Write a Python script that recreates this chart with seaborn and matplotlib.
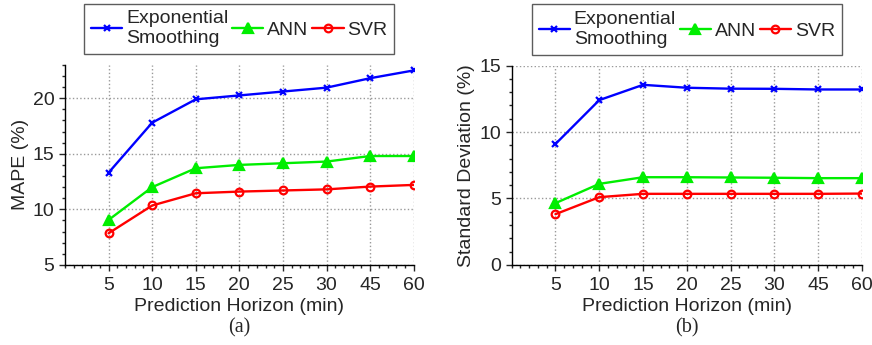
import numpy as np
import pandas as pd
import seaborn as sns
import matplotlib.pyplot as plt
from matplotlib.ticker import AutoMinorLocator, MultipleLocator, FixedLocator

# data
horizons = ["5", "10", "15", "20", "25", "30", "45", "60"]
methods = ["Exponential\nSmoothing", "ANN", "SVR"]

mape_es = [13.3, 17.8, 19.9, 20.25, 20.6, 20.95, 21.8, 22.5]
mape_ann = [9.05, 12.0, 13.7, 14.0, 14.15, 14.3, 14.8, 14.8]
mape_svr = [7.85, 10.35, 11.45, 11.6, 11.7, 11.8, 12.05, 12.2]

std_es = [9.1, 12.4, 13.55, 13.33, 13.26, 13.25, 13.2, 13.2]
std_ann = [4.65, 6.1, 6.6, 6.6, 6.58, 6.56, 6.53, 6.53]
std_svr = [3.82, 5.1, 5.35, 5.35, 5.35, 5.35, 5.35, 5.37]

colors = {methods[0]: "#0000ff", methods[1]: "#00ee00", methods[2]: "#ff0000"}
markers = {methods[0]: "x", methods[1]: "^", methods[2]: "o"}
msizes = {methods[0]: 4, methods[1]: 6.5, methods[2]: 5.5}
mfaces = {methods[0]: "#0000ff", methods[1]: "#00ee00", methods[2]: "none"}

sns.set_style("ticks")
plt.rcParams['font.family'] = ["Liberation Sans", "DejaVu Sans"]
FS = 14
plt.rcParams['font.size'] = FS


def make_df(es, ann, svr):
    rows = []
    for name, vals in zip(methods, [es, ann, svr]):
        for i, v in enumerate(vals):
            rows.append({"pos": i, "value": v, "method": name})
    return pd.DataFrame(rows)


def draw(ax, df, ylabel, ylim, yticks, caption):
    for m in methods:
        sns.lineplot(data=df[df["method"] == m], x="pos", y="value",
                     color=colors[m], marker=markers[m], markersize=msizes[m],
                     markerfacecolor=mfaces[m], markeredgecolor=colors[m],
                     markeredgewidth=1.6, linewidth=1.7, ax=ax, label=m)
    ax.set_xlim(-1, len(horizons) - 1)
    ax.xaxis.set_major_locator(FixedLocator(range(len(horizons))))
    ax.set_xticklabels(horizons)
    ax.xaxis.set_minor_locator(AutoMinorLocator(5))
    ax.set_ylim(*ylim)
    ax.set_yticks(yticks)
    ax.yaxis.set_minor_locator(MultipleLocator(1))
    ax.grid(True, which="major", linestyle=":", color="#999999", linewidth=1)
    ax.tick_params(which="major", length=4.5, width=1, labelsize=FS, pad=3)
    ax.tick_params(axis="x", which="major", pad=4)
    ax.tick_params(which="minor", length=2.5, width=1)
    for s in ["top", "right"]:
        ax.spines[s].set_visible(False)
    for s in ["left", "bottom"]:
        ax.spines[s].set_linewidth(1)
        ax.spines[s].set_color("black")
    ax.set_xlabel("Prediction Horizon (min)", fontsize=FS, labelpad=3)
    ax.set_ylabel(ylabel, fontsize=FS, labelpad=3)
    ax.text(0.5, -0.265, caption, transform=ax.transAxes, ha="center", va="top",
            fontsize=FS + 0.5, family=["Liberation Serif", "DejaVu Serif"])

    leg = ax.legend(ncol=3, loc="lower center",
                    bbox_to_anchor=(0.5, 1.055), frameon=True, fancybox=False,
                    fontsize=FS, handlelength=1.6, handletextpad=0.2,
                    columnspacing=0.2, borderpad=0.35, labelspacing=0.1,
                    borderaxespad=0)
    leg.get_frame().set_edgecolor("#333333")
    leg.get_frame().set_linewidth(1)


fig = plt.figure(figsize=(8.72, 3.45), dpi=100)
ax1 = fig.add_axes([0.0745, 0.232, 0.400, 0.580])
ax2 = fig.add_axes([0.5868, 0.232, 0.4017, 0.578])

draw(ax1, make_df(mape_es, mape_ann, mape_svr), "MAPE (%)", (5, 23), [5, 10, 15, 20], "(a)")
draw(ax2, make_df(std_es, std_ann, std_svr), "Standard Deviation (%)", (0, 15), [0, 5, 10, 15], "(b)")

fig.savefig("out.png", dpi=100)
